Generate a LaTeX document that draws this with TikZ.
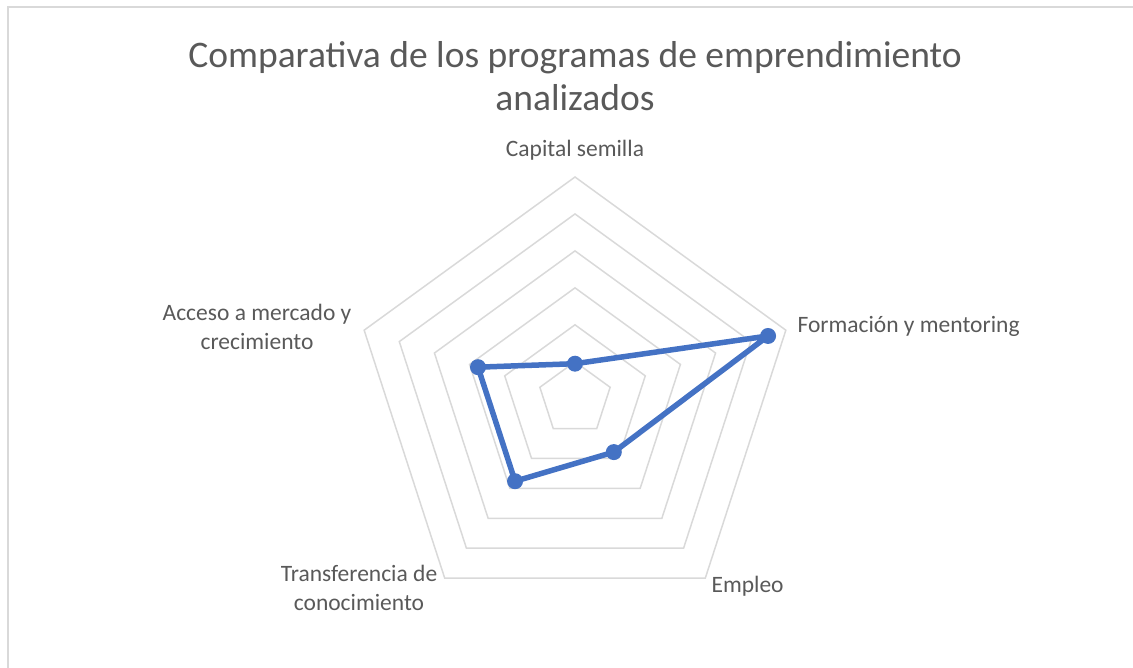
\documentclass[tikz,border=0pt]{standalone}
\usepackage{fontspec}
\setmainfont{Carlito}
\usetikzlibrary{calc}
\definecolor{txtgray}{HTML}{595959}
\definecolor{gridgray}{HTML}{D9D9D9}
\definecolor{serieblue}{HTML}{4472C4}

\begin{document}
\begin{tikzpicture}[x=1pt,y=-1pt,
    grid line/.style={draw=gridgray,line width=1.5pt},
    title node/.style={text=txtgray,font=\fontsize{37.5}{43}\selectfont,align=center},
    axis label/.style={text=txtgray,font=\fontsize{23.5}{29}\selectfont,align=center},
    data dot/.style={circle,fill=serieblue,inner sep=0pt,minimum size=16pt},
    data line/.style={draw=serieblue,line width=5.5pt,line join=round}]

  \useasboundingbox (0,0) rectangle (1133,668);
  \draw[gridgray,line width=1.5pt] (8,690) -- (8,7) -- (1150,7);

  \coordinate (O) at (575,398.7);

  % rings
  \foreach \r in {1,...,6} {
    \pgfmathsetmacro\rr{\r*36.95}
    \draw[grid line,shift={(O)}] (90:\rr pt) -- (18:\rr pt) -- (-54:\rr pt)
      -- (-126:\rr pt) -- (162:\rr pt) -- cycle;
  }

  \node[title node] (title) at (575,76) {Comparativa de los programas de emprendimiento\\analizados};

  \node[axis label] (cap) at (575,150) {Capital semilla};
  \node[axis label,anchor=west] (form) at (794,326) {Formación y mentoring};
  \node[axis label,anchor=west] (emp) at (708,586) {Empleo};
  \node[axis label] (trans) at (359,588) {Transferencia de\\conocimiento};
  \node[axis label] (acc) at (257,327) {Acceso a mercado y\\crecimiento};

  % data
  \coordinate (pcap) at ($(O)+(90:35pt)$);
  \coordinate (pform) at ($(O)+(18:203pt)$);
  \coordinate (pemp) at ($(O)+(-54:66pt)$);
  \coordinate (ptrans) at ($(O)+(-126:102pt)$);
  \coordinate (pacc) at ($(O)+(162:102pt)$);

  \draw[data line] (pcap) -- (pform) -- (pemp) -- (ptrans) -- (pacc) -- cycle;
  \foreach \p in {pcap,pform,pemp,ptrans,pacc}
    \node[data dot] at (\p) {};

\end{tikzpicture}
\end{document}
